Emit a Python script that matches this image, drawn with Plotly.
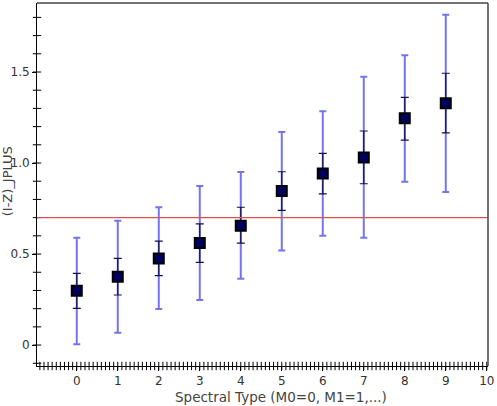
import plotly.graph_objects as go

spectral_type = [0, 1, 2, 3, 4, 5, 6, 7, 8, 9]
color_mean = [0.298, 0.375, 0.476, 0.560, 0.655, 0.846, 0.943, 1.031, 1.246, 1.328]
outer_high = [0.590, 0.683, 0.757, 0.874, 0.950, 1.170, 1.284, 1.474, 1.592, 1.815]
outer_low = [0.005, 0.068, 0.198, 0.247, 0.364, 0.520, 0.601, 0.590, 0.897, 0.841]
inner_high = [0.394, 0.476, 0.571, 0.666, 0.757, 0.952, 1.053, 1.176, 1.361, 1.493]
inner_low = [0.202, 0.275, 0.381, 0.454, 0.560, 0.740, 0.830, 0.886, 1.126, 1.166]
threshold = 0.70

FONT = "DejaVu Sans"
W, H = 497, 406
L, R, T, B = 37, 5, 3, 40
XR = [-0.97, 10.03]
YR = [-0.115, 1.879]

x_minor_ticks = [round(i * 0.1, 1) for i in range(-9, 101)]
y_minor_ticks = [round(i * 0.1, 1) for i in range(-1, 19)]

fig = go.Figure()

fig.add_trace(go.Scatter(
    x=spectral_type, y=color_mean, mode="markers",
    marker=dict(size=1, color="rgba(0,0,0,0)"),
    error_y=dict(type="data", symmetric=False,
                 array=[h - m for h, m in zip(outer_high, color_mean)],
                 arrayminus=[m - l for m, l in zip(color_mean, outer_low)],
                 color="rgba(70,70,230,0.75)", thickness=2, width=3.5),
    hoverinfo="skip", showlegend=False))

fig.add_trace(go.Scatter(
    x=spectral_type, y=color_mean, mode="markers",
    marker=dict(symbol="square", size=10, color="#000060",
                line=dict(color="#000000", width=2)),
    error_y=dict(type="data", symmetric=False,
                 array=[h - m for h, m in zip(inner_high, color_mean)],
                 arrayminus=[m - l for m, l in zip(color_mean, inner_low)],
                 color="#10104a", thickness=1.2, width=4),
    showlegend=False))

# minor tick marks along the axes, drawn through the axis scales
fig.add_trace(go.Scatter(
    x=x_minor_ticks, y=[YR[0]] * len(x_minor_ticks), mode="markers", cliponaxis=False,
    marker=dict(symbol="line-ns", size=6, line=dict(color="#000000", width=1)),
    hoverinfo="skip", showlegend=False))
fig.add_trace(go.Scatter(
    x=[XR[0]] * len(y_minor_ticks), y=y_minor_ticks, mode="markers", cliponaxis=False,
    marker=dict(symbol="line-ew", size=6, line=dict(color="#000000", width=1)),
    hoverinfo="skip", showlegend=False))

fig.add_shape(type="line", xref="paper", x0=0, x1=1, yref="y", y0=threshold, y1=threshold,
              line=dict(color="#e05050", width=1.3), layer="above")

axis_common = dict(showgrid=False, zeroline=False, linecolor="#000000", linewidth=1,
                   tickcolor="#000000", tickfont=dict(family=FONT, size=12, color="#333333"))

fig.update_layout(
    width=W, height=H,
    margin=dict(l=L, r=R, t=T, b=B),
    paper_bgcolor="white", plot_bgcolor="white",
    xaxis=dict(range=XR, tickmode="linear", tick0=0, dtick=1,
               ticks="outside", ticklen=4, showline=True, mirror=False,
               ticklabeloverflow="allow", **axis_common),
    yaxis=dict(range=YR, tickmode="linear", tick0=0, dtick=0.5,
               labelalias={"1": "1.0"},
               ticks="outside", ticklen=4, showline=True, mirror=False,
               **axis_common),
    annotations=[
        dict(text="Spectral Type (M0=0, M1=1,...)", xref="paper", yref="paper",
             x=(283 - L) / (W - L - R), y=-(397 - (H - B)) / (H - T - B),
             xanchor="center", yanchor="middle", showarrow=False,
             font=dict(family=FONT, size=13.5, color="#444444")),
        dict(text="(I-Z)_JPLUS", xref="paper", yref="paper",
             x=(8 - L) / (W - L - R), y=((H - B) - 181) / (H - T - B),
             xanchor="center", yanchor="middle", textangle=-90, showarrow=False,
             font=dict(family=FONT, size=13, color="#444444")),
    ],
)

# frame on top and right
fig.add_shape(type="line", xref="paper", yref="paper", x0=0, x1=1, y0=1, y1=1,
              line=dict(color="#444444", width=1.5))
fig.add_shape(type="line", xref="paper", yref="paper", x0=1, x1=1, y0=0, y1=1,
              line=dict(color="#444444", width=1.5))

fig.write_html("out.html")
